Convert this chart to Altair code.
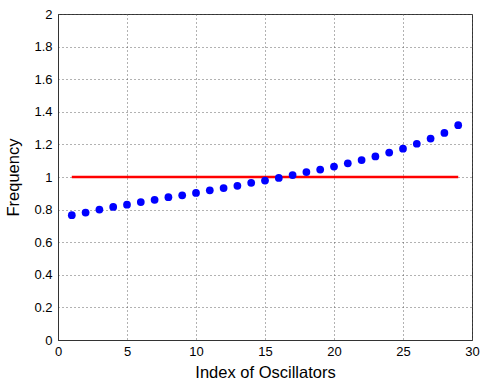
import altair as alt
import pandas as pd

# Oscillator indices and their measured frequencies
index = list(range(1, 30))
frequency = [0.766, 0.782, 0.800, 0.816, 0.830, 0.846, 0.860, 0.876, 0.888, 0.902,
             0.918, 0.932, 0.946, 0.964, 0.978, 0.994, 1.012, 1.030, 1.046, 1.064,
             1.084, 1.104, 1.126, 1.150, 1.174, 1.204, 1.236, 1.270, 1.318]

# Reference frequency line
ref_x = [1, 29]
ref_y = [1.0, 1.0]

dots = pd.DataFrame({"index": index, "frequency": frequency})
ref = pd.DataFrame({"index": ref_x, "frequency": ref_y})

FONT = "Liberation Sans"

x_scale = alt.Scale(domain=[0, 30], nice=False, zero=False)
y_scale = alt.Scale(domain=[0, 2], nice=False, zero=False)

x_ticks = [0, 5, 10, 15, 20, 25, 30]
y_ticks = [0, 0.2, 0.4, 0.6, 0.8, 1, 1.2, 1.4, 1.6, 1.8, 2]

x_axis = alt.Axis(title="Index of Oscillators", values=x_ticks,
                  format="d", grid=True, gridDash=[1, 3], gridColor="#555555",
                  gridOpacity=0.9, tickSize=0, labelPadding=5, titlePadding=6,
                  labelOverlap=False, labelFlush=False, labelBound=False)
y_axis = alt.Axis(title="Frequency", values=y_ticks,
                  labelExpr="datum.value == 0 ? '0' : format(datum.value, '.2~f')",
                  grid=True, gridDash=[1, 3], gridColor="#555555",
                  gridOpacity=0.9, tickSize=0, labelPadding=6, titlePadding=12,
                  labelOverlap=False, labelFlush=False, labelBound=False)

enc = dict(
    x=alt.X("index:Q", scale=x_scale, axis=x_axis),
    y=alt.Y("frequency:Q", scale=y_scale, axis=y_axis),
)

line = alt.Chart(ref).mark_line(color="#ff0000", strokeWidth=2.5).encode(**enc)
points = alt.Chart(dots).mark_circle(color="#0000ff", size=60, opacity=1).encode(**enc)

chart = alt.layer(line, points).properties(
    width=414, height=326,
    autosize=alt.AutoSizeParams(type="none"),
    padding={"left": 58, "top": 14, "right": 9, "bottom": 42},
    background="white",
).configure_view(
    stroke="#333333", strokeWidth=1,
).configure_axis(
    labelFont=FONT, titleFont=FONT, labelFontSize=13, titleFontSize=16.5,
    titleFontWeight="normal", labelColor="#000000", titleColor="#000000",
    domainColor="#333333",
)

chart.save("out.html", embed_options={"renderer": "svg", "actions": False})
